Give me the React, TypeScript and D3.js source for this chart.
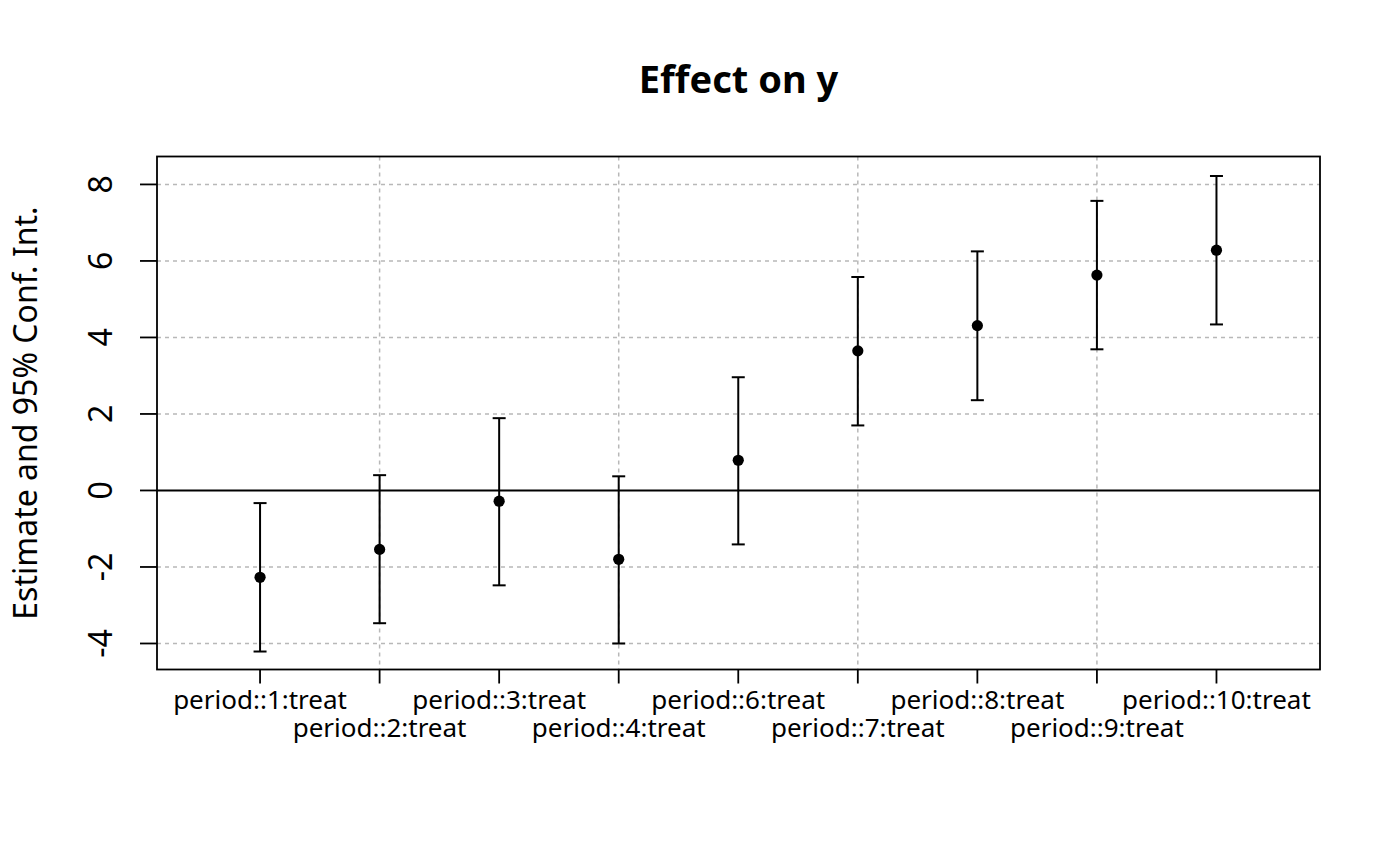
import React from "react";
import * as d3 from "d3";

const labels = [
  "period::1:treat",
  "period::2:treat",
  "period::3:treat",
  "period::4:treat",
  "period::6:treat",
  "period::7:treat",
  "period::8:treat",
  "period::9:treat",
  "period::10:treat",
];
const estimates = [-2.27, -1.54, -0.28, -1.8, 0.79, 3.65, 4.31, 5.63, 6.28];
const ciLow = [-4.21, -3.47, -2.48, -4.0, -1.41, 1.7, 2.36, 3.69, 4.34];
const ciHigh = [-0.33, 0.4, 1.89, 0.37, 2.96, 5.58, 6.25, 7.57, 8.22];
const yTicks = [-4, -2, 0, 2, 4, 6, 8];
const yGrid = [-4, -2, 2, 4, 6, 8];
const xGrid = [2, 4, 6, 8];

const W = 1400;
const H = 866;
const L = 157;
const R = 1320;
const T = 156.5;
const B = 669.5;
const FONT = "'Noto Sans', 'DejaVu Sans', sans-serif";

export default function App() {
  const x = d3.scaleLinear().domain([0.138, 9.866]).range([L, R]);
  const y = d3.scaleLinear().domain([-4.68, 8.73]).range([B, T]);
  const pos = labels.map((_, i) => i + 1);
  const cap = 6.5;

  return (
    <svg
      width={W}
      height={H}
      viewBox={`0 0 ${W} ${H}`}
      style={{ position: "absolute", left: 0, top: 0, display: "block", background: "#fff" }}
    >
      <rect x={0} y={0} width={W} height={H} fill="#fff" />
      {yGrid.map((v) => (
        <line
          key={"gy" + v}
          x1={L}
          x2={R}
          y1={y(v)}
          y2={y(v)}
          stroke="#b8b8b8"
          strokeWidth={1.5}
          strokeDasharray="4 4"
        />
      ))}
      {xGrid.map((v) => (
        <line
          key={"gx" + v}
          x1={x(v)}
          x2={x(v)}
          y1={T}
          y2={B}
          stroke="#b8b8b8"
          strokeWidth={1.5}
          strokeDasharray="4 4"
        />
      ))}
      <line x1={L} x2={R} y1={y(0)} y2={y(0)} stroke="#000" strokeWidth={2} />
      {pos.map((p, i) => (
        <g key={"e" + i} stroke="#000" strokeWidth={2}>
          <line x1={x(p)} x2={x(p)} y1={y(ciLow[i])} y2={y(ciHigh[i])} />
          <line x1={x(p) - cap} x2={x(p) + cap} y1={y(ciLow[i])} y2={y(ciLow[i])} />
          <line x1={x(p) - cap} x2={x(p) + cap} y1={y(ciHigh[i])} y2={y(ciHigh[i])} />
        </g>
      ))}
      {pos.map((p, i) => (
        <circle key={"c" + i} cx={x(p)} cy={y(estimates[i])} r={5.6} fill="#000" />
      ))}
      <rect x={L} y={T} width={R - L} height={B - T} fill="none" stroke="#000" strokeWidth={1.8} />
      {yTicks.map((v) => (
        <g key={"yt" + v}>
          <line x1={L - 17} x2={L} y1={y(v)} y2={y(v)} stroke="#000" strokeWidth={1.8} />
          <text
            transform={`translate(112,${y(v)}) rotate(-90)`}
            textAnchor="middle"
            fontFamily={FONT}
            fontSize={32}
            fill="#000"
          >
            {v}
          </text>
        </g>
      ))}
      {pos.map((p, i) => (
        <g key={"xt" + i}>
          <line x1={x(p)} x2={x(p)} y1={B} y2={B + 14} stroke="#000" strokeWidth={1.8} />
          <text
            x={x(p)}
            y={i % 2 === 0 ? 709 : 737}
            textAnchor="middle"
            fontFamily={FONT}
            fontSize={26}
            fill="#000"
          >
            {labels[i]}
          </text>
        </g>
      ))}
      <text
        transform={`translate(36.5,${(T + B) / 2}) rotate(-90)`}
        textAnchor="middle"
        fontFamily={FONT}
        fontSize={32}
        fill="#000"
      >
        Estimate and 95% Conf. Int.
      </text>
      <text
        x={(L + R) / 2}
        y={93}
        textAnchor="middle"
        fontFamily={FONT}
        fontSize={38}
        fontWeight="bold"
        fill="#000"
      >
        Effect on y
      </text>
    </svg>
  );
}
